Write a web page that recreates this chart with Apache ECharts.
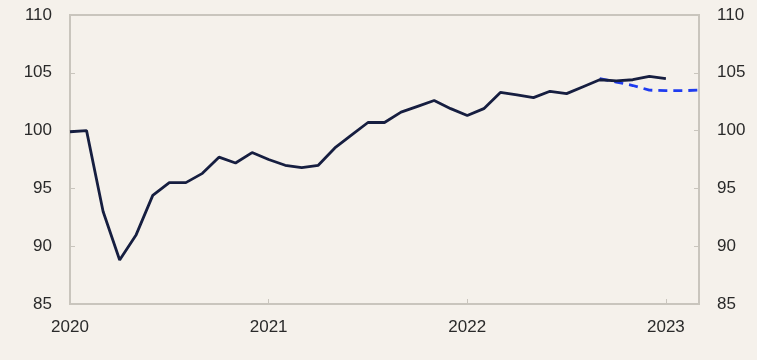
<!DOCTYPE html>
<html>
<head>
<meta charset="utf-8">
<script src="https://cdn.jsdelivr.net/npm/echarts@6/dist/echarts.min.js"></script>
<style>
    html, body {margin: 0; padding: 0; background: #f5f1eb;}
    #main {width: 757px; height: 360px;}
</style>
</head>
<body>
<div id="main"></div>
<script>
// months since Jan 2020
const months = [0, 1, 2, 3, 4, 5, 6, 7, 8, 9, 10, 11, 12, 13, 14, 15, 16, 17, 18, 19,
    20, 21, 22, 23, 24, 25, 26, 27, 28, 29, 30, 31, 32, 33, 34, 35, 36];
const actual = [99.9, 100.0, 93.0, 88.8, 91.0, 94.4, 95.5, 95.5, 96.3, 97.7, 97.2, 98.1,
    97.5, 97.0, 96.8, 97.0, 98.5, 99.6, 100.7, 100.7, 101.6, 102.1, 102.6, 101.9,
    101.3, 101.9, 103.3, 103.1, 102.85, 103.4, 103.2, 103.8, 104.4, 104.3, 104.4, 104.7, 104.5];
const forecastMonths = [32, 33, 34, 35, 36, 37, 38];
const forecast = [104.5, 104.2, 103.9, 103.5, 103.45, 103.45, 103.5];
const yearLabels = ['2020', '2021', '2022', '2023'];

const axisGray = '#c9c5bd';
const textColor = '#2a2a2a';

const myChart = echarts.init(document.getElementById('main'));

const yAxisBase = (position) => ({
    type: 'value',
    position: position,
    min: 85,
    max: 110,
    interval: 5,
    axisLine: {show: true, lineStyle: {color: axisGray, width: 2}},
    axisTick: {show: true, inside: true, length: 5, lineStyle: {color: axisGray, width: 1}},
    axisLabel: {color: textColor, fontSize: 17, fontFamily: 'Liberation Sans', margin: 18},
    splitLine: {show: false}
});

myChart.setOption({
    backgroundColor: '#f5f1eb',
    animation: false,
    grid: {
        left: 70,
        right: 58,
        top: 15,
        bottom: 56,
        show: true,
        borderColor: axisGray,
        borderWidth: 2,
        backgroundColor: 'transparent'
    },
    xAxis: {
        type: 'value',
        min: 0,
        max: 38,
        interval: 12,
        axisLine: {show: true, lineStyle: {color: axisGray, width: 2}},
        axisTick: {show: true, inside: true, length: 5, lineStyle: {color: axisGray, width: 1}},
        axisLabel: {
            color: textColor,
            fontSize: 17,
            fontFamily: 'Liberation Sans',
            margin: 15,
            showMaxLabel: false,
            formatter: (v) => yearLabels[v / 12] || ''
        },
        splitLine: {show: false}
    },
    yAxis: [yAxisBase('left'), yAxisBase('right')],
    series: [
        {
            type: 'line',
            data: months.map((m, i) => [m, actual[i]]),
            showSymbol: false,
            lineStyle: {color: '#161e40', width: 2.8},
            z: 3
        },
        {
            type: 'line',
            data: forecastMonths.map((m, i) => [m, forecast[i]]),
            showSymbol: false,
            lineStyle: {color: '#1f3cf0', width: 2.8, type: [9, 6]},
            z: 2
        }
    ]
});
</script>
</body>
</html>
